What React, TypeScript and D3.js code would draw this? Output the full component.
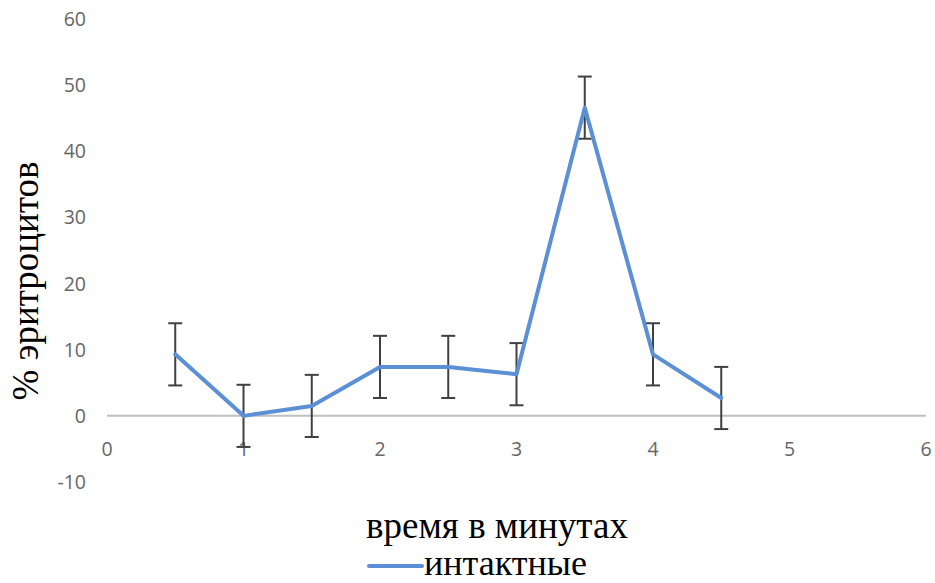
import React from "react";
import * as d3 from "d3";

const times = [0.5, 1, 1.5, 2, 2.5, 3, 3.5, 4, 4.5];
const percents = [9.3, 0, 1.5, 7.4, 7.4, 6.3, 46.6, 9.3, 2.7];
const errors = [4.7, 4.7, 4.7, 4.7, 4.7, 4.7, 4.7, 4.7, 4.7];
const xTicks = [0, 1, 2, 3, 4, 5, 6];
const yTicks = [-10, 0, 10, 20, 30, 40, 50, 60];
const seriesName = "интактные";
const xTitle = "время в минутах";
const yTitle = "% эритроцитов";

const W = 935;
const H = 583;

export default function App() {
  const x = d3.scaleLinear().domain([0, 6]).range([107, 926]);
  const y = d3.scaleLinear().domain([-10, 60]).range([482, 19]);
  const line = d3
    .line<number>()
    .x((_, i) => x(times[i]))
    .y((d) => y(d));

  const tickStyle = { fontFamily: "'Open Sans', 'Liberation Sans', sans-serif" };
  const serifStyle = { fontFamily: "'Liberation Serif', 'Times New Roman', serif" };
  const cap = 7;

  return (
    <svg
      width={W}
      height={H}
      style={{ position: "absolute", left: 0, top: 0, background: "#fff" }}
    >
      {/* y tick labels */}
      {yTicks.map((t) => (
        <text
          key={`y${t}`}
          x={86}
          y={y(t)}
          dy="0.36em"
          textAnchor="end"
          style={tickStyle}
          fontSize={19.5}
          fill="#666666"
        >
          {t}
        </text>
      ))}
      {/* x tick labels */}
      {xTicks.map((t) => (
        <text
          key={`x${t}`}
          x={x(t)}
          y={449}
          dy="0.36em"
          textAnchor="middle"
          style={tickStyle}
          fontSize={19.5}
          fill="#666666"
        >
          {t}
        </text>
      ))}
      {/* zero axis */}
      <line
        x1={x(0)}
        x2={x(6)}
        y1={y(0)}
        y2={y(0)}
        stroke="#bfbfbf"
        strokeWidth={2}
      />
      {/* error bars */}
      {times.map((t, i) => {
        const cx = x(t);
        const top = y(percents[i] + errors[i]);
        const bot = y(percents[i] - errors[i]);
        return (
          <g key={`e${i}`} stroke="#404040" strokeWidth={2}>
            <line x1={cx} x2={cx} y1={top} y2={bot} />
            <line x1={cx - cap} x2={cx + cap} y1={top} y2={top} />
            <line x1={cx - cap} x2={cx + cap} y1={bot} y2={bot} />
          </g>
        );
      })}
      {/* series line */}
      <path
        d={line(percents) || ""}
        fill="none"
        stroke="#5b8fd6"
        strokeWidth={4}
        strokeLinejoin="round"
        strokeLinecap="round"
      />
      {/* axis titles */}
      <text
        transform={`translate(38, 281) rotate(-90)`}
        textAnchor="middle"
        style={serifStyle}
        fontSize={37}
        fill="#000"
      >
        {yTitle}
      </text>
      <text
        x={497}
        y={538}
        textAnchor="middle"
        style={serifStyle}
        fontSize={37}
        fill="#000"
      >
        {xTitle}
      </text>
      {/* legend */}
      <line
        x1={369}
        x2={422}
        y1={566}
        y2={566}
        stroke="#5b8fd6"
        strokeWidth={4}
        strokeLinecap="round"
      />
      <text x={424} y={575} style={serifStyle} fontSize={36} fill="#000">
        {seriesName}
      </text>
    </svg>
  );
}
